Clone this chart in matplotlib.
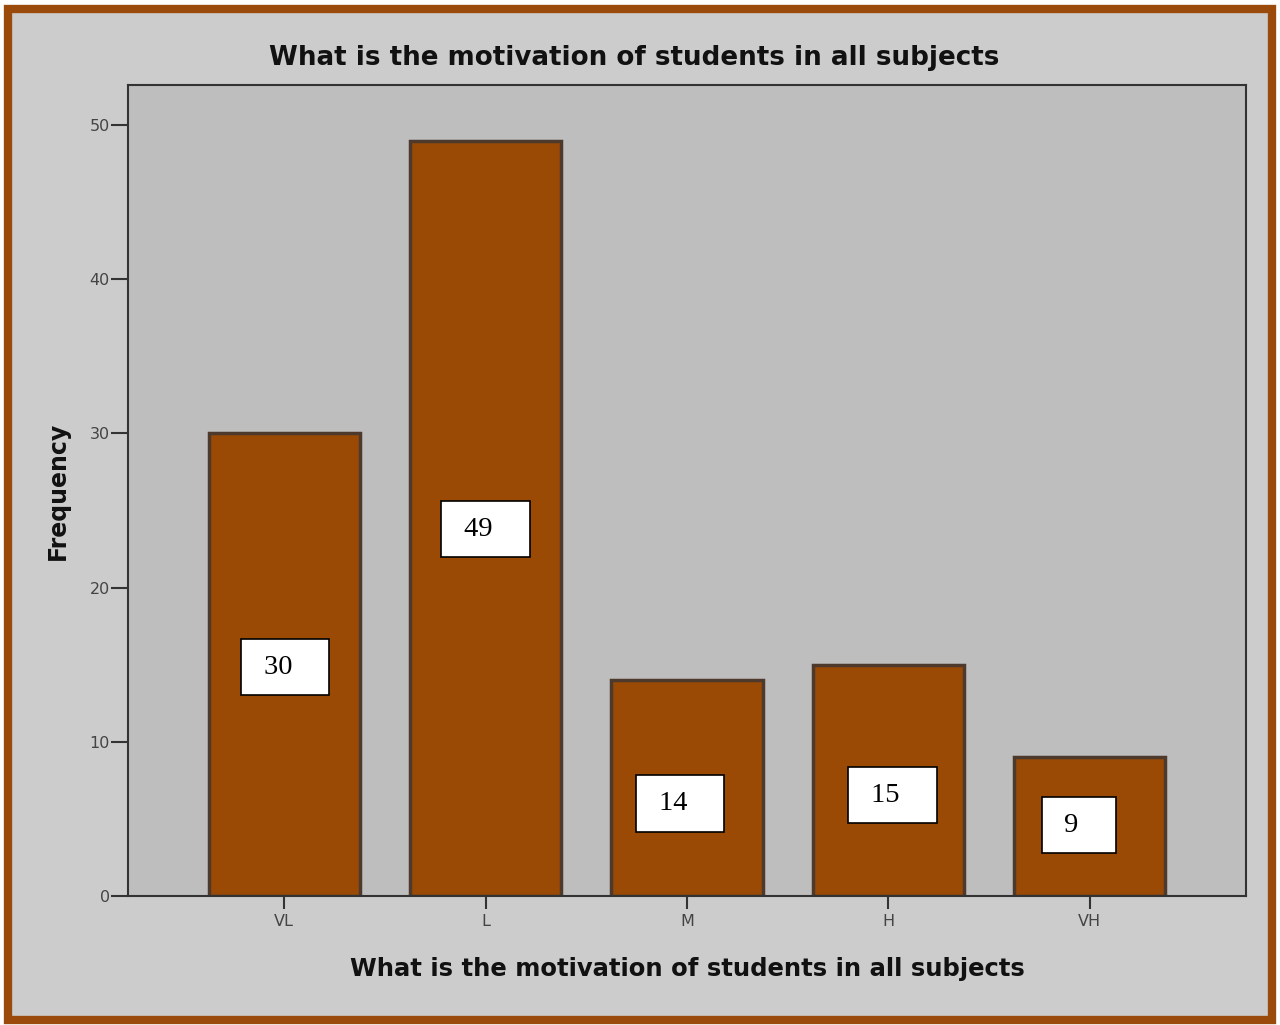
import matplotlib.pyplot as plt
from matplotlib.patches import Rectangle

categories = ['VL', 'L', 'M', 'H', 'VH']
frequency = [30, 49, 14, 15, 9]
# where the hand-placed value boxes sit (x offset from bar centre, y in data units)
box_dx = [0.005, 0.0, -0.035, 0.02, -0.055]
box_y = [14.85, 23.8, 6.0, 6.55, 4.6]

W, H = 1280, 1025
fig = plt.figure(figsize=(W / 100, H / 100), dpi=100, facecolor='white')

# brown picture frame with light grey inside
fig.patches.append(Rectangle((8 / W, 5 / H), 1264 / W, 1011 / H, transform=fig.transFigure,
                             facecolor='#cccccc', edgecolor='#9a4b0c', linewidth=6, zorder=0))

ax = fig.add_axes([128 / W, 1 - 896 / H, (1246 - 128) / W, (896 - 85) / H])
ax.set_zorder(2)
ax.set_facecolor('#bebebe')

x = range(len(categories))
ax.bar(x, frequency, width=0.75, color='#9a4a05', edgecolor='#4d3a2c', linewidth=2.5, zorder=2)

# value boxes: text sits a little left of the box centre, as in the original
for i, v in enumerate(frequency):
    ax.text(i + box_dx[i], box_y[i], ' ' + str(v) + '   ', ha='center', va='center', fontsize=20.5,
            family='Liberation Serif', zorder=3,
            bbox=dict(boxstyle='square,pad=0.55', facecolor='white', edgecolor='black', linewidth=1.2))

ax.set_xlim(-0.775, 4.775)
ax.set_ylim(0, 52.6)
ax.set_xticks(list(x))
ax.set_xticklabels(categories)
ax.set_yticks([0, 10, 20, 30, 40, 50])
ax.tick_params(axis='y', length=12, width=1.5, colors='#333333', labelsize=11.5, pad=1)
ax.tick_params(axis='x', length=9, width=1.5, colors='#333333', labelsize=11.5, pad=4)
for lab in ax.get_xticklabels() + ax.get_yticklabels():
    lab.set_color('#444444')
for s in ax.spines.values():
    s.set_color('#333333')
    s.set_linewidth(1.5)

ax.set_xlabel('What is the motivation of students in all subjects', fontsize=17.5,
              fontweight='bold', color='#111111', labelpad=20)
ax.set_ylabel('Frequency', fontsize=17, fontweight='bold', color='#111111', labelpad=14)
fig.text(634 / W, 1 - 58 / H, 'What is the motivation of students in all subjects',
         ha='center', va='center', fontsize=18.8, fontweight='bold', color='#111111', zorder=3)

fig.savefig('out.png', dpi=100, facecolor=fig.get_facecolor())
